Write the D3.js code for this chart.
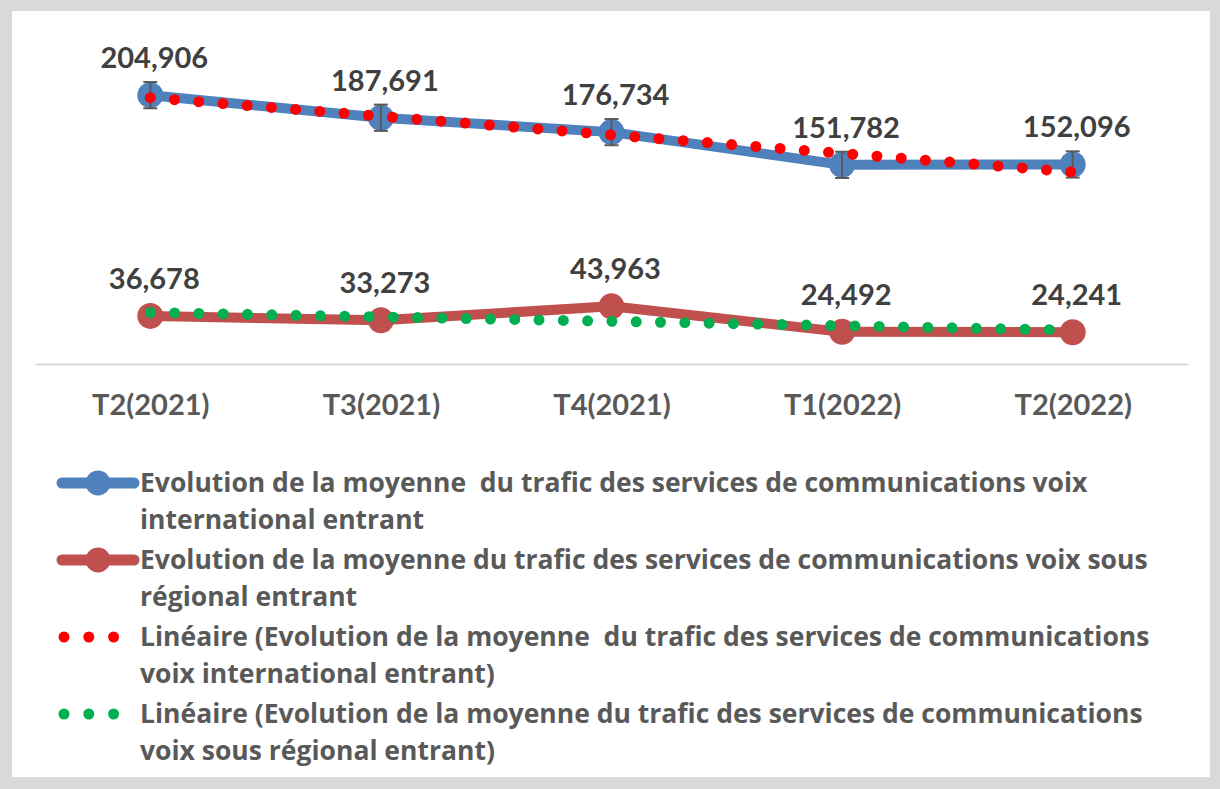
<!DOCTYPE html>
<html lang="fr">
<head>
<meta charset="utf-8">
<title>Evolution de la moyenne du trafic</title>
<script src="https://cdn.jsdelivr.net/npm/d3@7"></script>
<style>
  html, body { margin: 0; padding: 0; background: #d9d9d9; }
  svg { display: block; }
  text { font-family: Lato, "Open Sans", sans-serif; font-weight: bold; }
  .legend text { font-family: "Open Sans", Lato, sans-serif; }
</style>
</head>
<body>
<script>
// categories and values
var categories = ["T2(2021)", "T3(2021)", "T4(2021)", "T1(2022)", "T2(2022)"];
var internationalValues = [204906, 187691, 176734, 151782, 152096];
var regionalValues = [36678, 33273, 43963, 24492, 24241];
var errorAmount = 10000; // error bars on the international series

var legendLabels = [
  ["Evolution de la moyenne  du trafic des services de communications voix", "international entrant"],
  ["Evolution de la moyenne du trafic des services de communications voix sous", "régional entrant"],
  ["Linéaire (Evolution de la moyenne  du trafic des services de communications", "voix international entrant)"],
  ["Linéaire (Evolution de la moyenne du trafic des services de communications", "voix sous régional entrant)"]
];

var w = 1220, h = 789;
var svg = d3.select("body").append("svg").attr("width", w).attr("height", h);

// white chart area inside the grey frame
svg.append("rect").attr("x", 12).attr("y", 11).attr("width", 1198).attr("height", 766).attr("fill", "#fff");

var xScale = d3.scalePoint().domain(categories).range([35, 1188]).padding(0.5);
var yScale = d3.scaleLinear().domain([0, 250000]).range([364, 36]);

// category axis line + labels
var axis = d3.axisBottom(xScale).tickSize(0).tickPadding(30);
var axisG = svg.append("g").attr("transform", "translate(0,364)").call(axis);
axisG.select(".domain").attr("stroke", "#d9d9d9").attr("stroke-width", 2);
axisG.selectAll("text").attr("fill", "#595959").style("font-size", "29px")
  .style("font-family", "Lato, 'Open Sans', sans-serif").style("font-weight", "bold");

// linear trend (least squares) for the dotted lines
function trend(values) {
  var n = values.length, xs = d3.range(1, n + 1);
  var mx = d3.mean(xs), my = d3.mean(values);
  var sxy = d3.sum(xs, function(x, i) { return (x - mx) * (values[i] - my); });
  var sxx = d3.sum(xs, function(x) { return (x - mx) * (x - mx); });
  var b = sxy / sxx, a = my - b * mx;
  return xs.map(function(x) { return a + b * x; });
}

var line = d3.line()
  .x(function(d, i) { return xScale(categories[i]); })
  .y(function(d) { return yScale(d); });

var series = [
  { values: internationalValues, color: "#4f81bd", trendColor: "#ff0000" },
  { values: regionalValues, color: "#c0504d", trendColor: "#00b050" }
];

series.forEach(function(s) {
  svg.append("path").attr("d", line(s.values)).attr("fill", "none")
    .attr("stroke", s.color).attr("stroke-width", 10).attr("stroke-linejoin", "round");
  svg.selectAll(null).data(s.values).enter().append("circle")
    .attr("cx", function(d, i) { return xScale(categories[i]); })
    .attr("cy", function(d) { return yScale(d); })
    .attr("r", 13).attr("fill", s.color);
});

// error bars on the blue series
var eb = svg.append("g").attr("stroke", "#595959").attr("stroke-width", 2);
internationalValues.forEach(function(v, i) {
  var x = xScale(categories[i]);
  var y0 = yScale(v - errorAmount), y1 = yScale(v + errorAmount);
  eb.append("line").attr("x1", x).attr("x2", x).attr("y1", y0).attr("y2", y1);
  eb.append("line").attr("x1", x - 7).attr("x2", x + 7).attr("y1", y0).attr("y2", y0);
  eb.append("line").attr("x1", x - 7).attr("x2", x + 7).attr("y1", y1).attr("y2", y1);
});

// dotted trend lines
series.forEach(function(s) {
  svg.append("path").attr("d", line(trend(s.values))).attr("fill", "none")
    .attr("stroke", s.trendColor).attr("stroke-width", 11)
    .attr("stroke-linecap", "round").attr("stroke-dasharray", "0 24.3");
});

// data labels
var fmt = d3.format(",");
series.forEach(function(s) {
  svg.selectAll(null).data(s.values).enter().append("text")
    .attr("x", function(d, i) { return xScale(categories[i]) + 4; })
    .attr("y", function(d) { return yScale(d) - 27; })
    .attr("text-anchor", "middle").attr("fill", "#404040")
    .style("font-size", "29px").text(function(d) { return fmt(d); });
});

// legend
var legendY = [483, 560, 637, 714];
var lg = svg.append("g").attr("class", "legend");
legendLabels.forEach(function(lines, k) {
  var y = legendY[k];
  if (k < 2) {
    lg.append("line").attr("x1", 62).attr("x2", 134).attr("y1", y).attr("y2", y)
      .attr("stroke", series[k].color).attr("stroke-width", 11).attr("stroke-linecap", "round");
    lg.append("circle").attr("cx", 98).attr("cy", y).attr("r", 12.5).attr("fill", series[k].color);
  } else {
    lg.selectAll(null).data(d3.range(3)).enter().append("circle")
      .attr("cx", function(j) { return 64 + j * 24.8; }).attr("cy", y)
      .attr("r", 5.5).attr("fill", series[k - 2].trendColor);
  }
  var t = lg.append("text").attr("x", 140).attr("y", y + 9).attr("fill", "#595959")
    .style("font-size", "26.5px").attr("xml:space", "preserve");
  lines.forEach(function(l, j) {
    t.append("tspan").attr("x", 140).attr("dy", j === 0 ? 0 : 37).text(l);
  });
});
</script>
</body>
</html>
